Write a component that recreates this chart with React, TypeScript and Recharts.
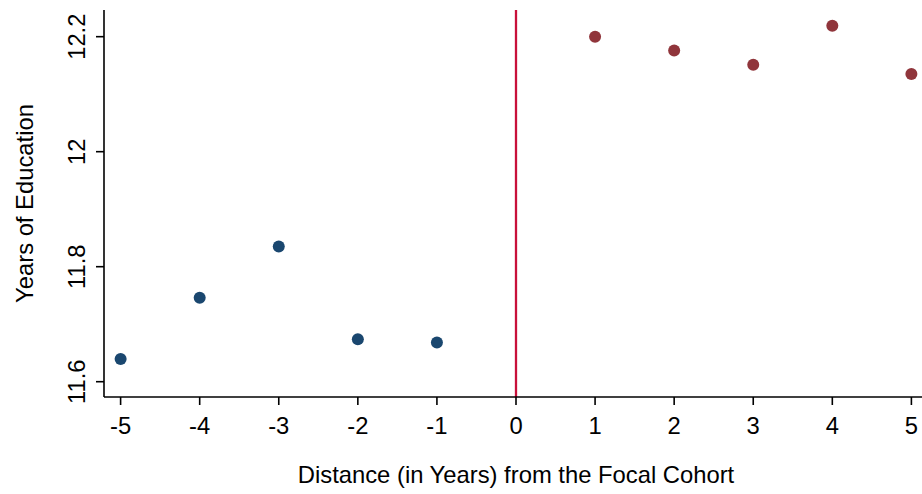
import React from 'react';
import { ScatterChart, Scatter, XAxis, YAxis, ReferenceLine, Label } from 'recharts';

const preYears = [-5, -4, -3, -2, -1];
const preEdu = [11.6395, 11.746, 11.835, 11.674, 11.668];
const postYears = [1, 2, 3, 4, 5];
const postEdu = [12.2, 12.176, 12.151, 12.219, 12.135];
const xTicks = [-5, -4, -3, -2, -1, 0, 1, 2, 3, 4, 5];
const yTicks = [11.6, 11.8, 12, 12.2];

const preData = preYears.map((x, i) => ({ x, y: preEdu[i] }));
const postData = postYears.map((x, i) => ({ x, y: postEdu[i] }));

const FONT = '"Liberation Sans", Arial, sans-serif';
const FS = 23.8;

const YTick = (props: any) => {
  const { x, y, payload } = props;
  return (
    <text
      x={x}
      y={y}
      transform={`rotate(-90, ${x}, ${y})`}
      textAnchor="middle"
      fill="#000"
      fontFamily={FONT}
      fontSize={FS}
    >
      {String(payload.value)}
    </text>
  );
};

const XTick = (props: any) => {
  const { x, y, payload } = props;
  return (
    <text x={x} y={y} dy="0.71em" textAnchor="middle" fill="#000" fontFamily={FONT} fontSize={FS}>
      {String(payload.value)}
    </text>
  );
};

const dot = (color: string) => (props: any) => (
  <circle cx={props.cx} cy={props.cy} r={6} fill={color} />
);

export default function App() {
  return (
    <div style={{ position: 'absolute', left: 0, top: 0, width: 922, height: 494, overflow: 'hidden', background: '#fff' }}>
      <ScatterChart width={928} height={494} margin={{ top: 10, right: 0, bottom: 0, left: 0 }}>
        <XAxis
          type="number"
          dataKey="x"
          domain={[-5.21, 5.21]}
          ticks={xTicks}
          interval={0}
          allowDataOverflow
          height={97}
          tickSize={8}
          tickMargin={12}
          tick={<XTick />}
          axisLine={{ stroke: '#000', strokeWidth: 1.6 }}
          tickLine={{ stroke: '#000', strokeWidth: 1.6 }}
        >
          <Label
            content={(p: any) => {
              const vb = p.viewBox;
              return (
                <text x={vb.x + vb.width / 2} y={vb.y + 86} textAnchor="middle" fill="#000" fontFamily={FONT} fontSize={FS}>
                  Distance (in Years) from the Focal Cohort
                </text>
              );
            }}
          />
        </XAxis>
        <YAxis
          type="number"
          dataKey="y"
          domain={[11.5734, 12.2464]}
          ticks={yTicks}
          interval={0}
          allowDataOverflow
          width={104}
          tickSize={8}
          tickMargin={11}
          tick={<YTick />}
          axisLine={{ stroke: '#000', strokeWidth: 1.6 }}
          tickLine={{ stroke: '#000', strokeWidth: 1.6 }}
        >
          <Label
            content={(p: any) => {
              const vb = p.viewBox;
              const cx = vb.x + 33;
              const cy = vb.y + vb.height / 2;
              return (
                <text x={cx} y={cy} transform={`rotate(-90, ${cx}, ${cy})`} textAnchor="middle" fill="#000" fontFamily={FONT} fontSize={FS}>
                  Years of Education
                </text>
              );
            }}
          />
        </YAxis>
        <ReferenceLine x={0} stroke="#c8103a" strokeWidth={2.3} />
        <Scatter data={preData} fill="#1a476f" shape={dot('#1a476f')} isAnimationActive={false} />
        <Scatter data={postData} fill="#90353b" shape={dot('#90353b')} isAnimationActive={false} />
      </ScatterChart>
    </div>
  );
}
